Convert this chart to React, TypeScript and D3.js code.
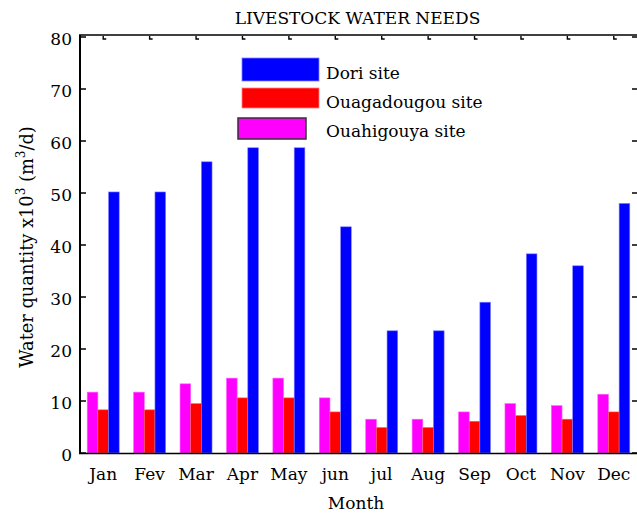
import React from "react";
import * as d3 from "d3";

const months = ["Jan", "Fev", "Mar", "Apr", "May", "jun", "jul", "Aug", "Sep", "Oct", "Nov", "Dec"];
const doriValues = [50.2, 50.2, 56.0, 58.7, 58.7, 43.5, 23.5, 23.5, 29.0, 38.3, 36.0, 48.0];
const ouagaValues = [8.3, 8.3, 9.5, 10.6, 10.6, 7.9, 4.9, 4.9, 6.1, 7.2, 6.5, 7.9];
const ouahiValues = [11.7, 11.7, 13.3, 14.4, 14.4, 10.6, 6.5, 6.5, 7.9, 9.5, 9.1, 11.3];
const yTicks = [0, 10, 20, 30, 40, 50, 60, 70, 80];
const seriesNames = ["Ouahigouya site", "Ouagadougou site", "Dori site"];

const W = 637;
const H = 513;
const FONT = "'DejaVu Serif', serif";
const FS = 17;

export default function App() {
  const x = d3.scaleBand<string>().domain(months).range([80, 637]).paddingInner(0).paddingOuter(0);
  const y = d3.scaleLinear().domain([0, 80]).range([453, 37]);
  const sub = d3.scaleBand<string>().domain(seriesNames).range([0, 32]).padding(0);
  const groupOffset = (x.bandwidth() - 32) / 2;

  const series = [
    { name: "Ouahigouya site", values: ouahiValues, color: "#ff00ff" },
    { name: "Ouagadougou site", values: ouagaValues, color: "#ff0000" },
    { name: "Dori site", values: doriValues, color: "#0000ff" },
  ];

  const legend = [
    { name: "Dori site", color: "#0000ff", x: 242, y: 58, w: 77, h: 23, stroke: "#7f7fff", ty: 79 },
    { name: "Ouagadougou site", color: "#ff0000", x: 242, y: 88, w: 77, h: 20, stroke: "#ff8080", ty: 108 },
    { name: "Ouahigouya site", color: "#ff00ff", x: 238, y: 118, w: 68, h: 21, stroke: "#333333", ty: 137 },
  ];

  return (
    <svg
      width={W}
      height={H}
      style={{ position: "absolute", left: 0, top: 0, background: "#fff" }}
      fontFamily={FONT}
    >
      <rect x={0} y={0} width={W} height={H} fill="#fff" />
      {/* bars */}
      {series.map((s) =>
        s.values.map((v, i) => (
          <rect
            key={s.name + i}
            x={(x(months[i]) as number) + groupOffset + (sub(s.name) as number)}
            y={y(v)}
            width={sub.bandwidth()}
            height={y(0) - y(v)}
            fill={s.color}
            stroke={s.color === "#0000ff" ? "#8080ff" : s.color === "#ff0000" ? "#ff6060" : "#ff60ff"}
            strokeWidth={0.6}
          />
        ))
      )}
      {/* axes */}
      <line x1={80} y1={35} x2={80} y2={453.5} stroke="#000" strokeWidth={2} />
      <line x1={79} y1={453.5} x2={637} y2={453.5} stroke="#000" strokeWidth={1.5} />
      <line x1={79} y1={35} x2={637} y2={35} stroke="#000" strokeWidth={1.5} />
      {yTicks.map((t) => (
        <g key={"yt" + t}>
          <line x1={80} y1={y(t)} x2={86} y2={y(t)} stroke="#000" strokeWidth={1.5} />
          <line x1={632} y1={y(t)} x2={637} y2={y(t)} stroke="#000" strokeWidth={1.5} />
          <text x={72} y={y(t) + 7.5} textAnchor="end" fontSize={FS} fill="#000">
            {t}
          </text>
        </g>
      ))}
      {months.map((m) => {
        const cx = (x(m) as number) + x.bandwidth() / 2;
        return (
          <g key={"xt" + m}>
            <path d={`M${cx},36 V39 H${cx + 3}`} fill="none" stroke="#000" strokeWidth={1.4} />
            <text x={cx} y={480} textAnchor="middle" fontSize={FS} fill="#000">
              {m}
            </text>
          </g>
        );
      })}
      {/* title */}
      <text x={357.5} y={24} textAnchor="middle" fontSize={FS} fill="#000">
        LIVESTOCK WATER NEEDS
      </text>
      {/* axis labels */}
      <text x={356} y={509} textAnchor="middle" fontSize={FS} fill="#000">
        Month
      </text>
      <text transform="translate(33,247) rotate(-90)" textAnchor="middle" fontSize={FS + 0.8} fill="#000">
        Water quantity x10
        <tspan dy={-8} fontSize={12}>3</tspan>
        <tspan dy={8}> (m</tspan>
        <tspan dy={-8} fontSize={12}>3</tspan>
        <tspan dy={8}>/d)</tspan>
      </text>
      {/* legend */}
      {legend.map((l) => (
        <g key={"lg" + l.name}>
          <rect x={l.x} y={l.y} width={l.w} height={l.h} fill={l.color} stroke={l.stroke} strokeWidth={l.stroke === "#333333" ? 1.5 : 0.8} />
          <text x={326} y={l.ty} fontSize={FS} fill="#000">
            {l.name}
          </text>
        </g>
      ))}
    </svg>
  );
}
